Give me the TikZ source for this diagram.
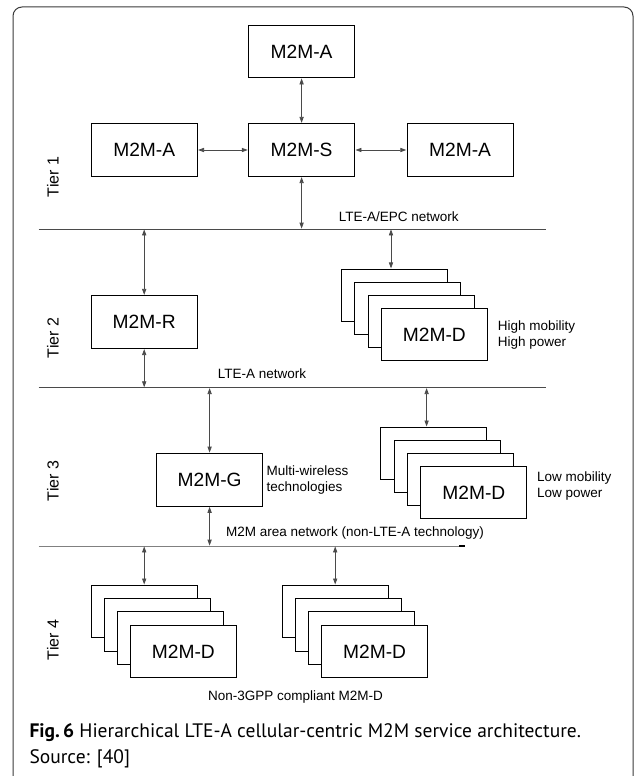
\documentclass[tikz,border=0pt]{standalone}
\usepackage{fontspec}
\setmainfont{Liberation Sans}
\newfontfamily\capfont{PT Sans}
\usetikzlibrary{arrows.meta}
\definecolor{framec}{HTML}{3A3A3A}
\definecolor{linec}{HTML}{4A4A4A}
\tikzset{
  box/.style={draw=black, fill=white, line width=0.9pt, minimum width=106pt, minimum height=52.5pt, inner sep=0pt, font=\fontsize{19.2}{21}\selectfont},
  sbox/.style={box},
  dbl/.style={line width=0.8pt, draw=linec, {Triangle[length=6pt,width=4.2pt]}-{Triangle[length=6pt,width=4.2pt]}, shorten <=0.4pt, shorten >=0.4pt},
  net/.style={line width=1pt, draw=linec},
  small/.style={font=\fontsize{13.5}{16}\selectfont, inner sep=0pt, align=left},
  tier/.style={font=\fontsize{16}{18}\selectfont, rotate=90, inner sep=0pt},
}
\begin{document}
\begin{tikzpicture}[x=1pt, y=-1pt]
\useasboundingbox (0,0) rectangle (637,776);
% frame
\draw[framec, line width=1pt, rounded corners=9pt] (13,800) -- (13,7) -- (633,7) -- (633,800);

% Tier 1
\node[box] (atop) at (301.6,51.3) {M2M-A};
\node[box] (aleft) at (144.2,150) {M2M-A};
\node[box] (srv) at (301.6,150) {M2M-S};
\node[box] (aright) at (460.1,150) {M2M-A};
\node[tier] (t1) at (53,177) {Tier 1};

% network lines
\coordinate (l1a) at (38.6,229);
\coordinate (l1b) at (546.4,229);
\coordinate (l2a) at (38.6,387.7);
\coordinate (l2b) at (546.4,387.7);
\coordinate (l3a) at (38.6,546);
\coordinate (l3b) at (465,546);
\coordinate (l3m) at (459,546);
\draw[net] (l1a) -- (l1b);
\draw[net] (l2a) -- (l2b);
\draw[net, draw=gray] (l3a) -- (l3b);
\draw[line width=1.6pt, draw=black] (l3m) -- (l3b);
\node[small] (n1) at (398.8,217) {LTE-A/EPC network};
\node[small] (n2) at (262,373.3) {LTE-A network};
\node[small] (n3) at (355,532.7) {M2M area network (non-LTE-A technology)};

\draw[dbl] (atop.south) -- (srv.north);
\draw[dbl] (aleft.east) -- (srv.west);
\draw[dbl] (srv.east) -- (aright.west);
\draw[dbl] (srv.south) -- (srv.south |- l1a);

% Tier 2
\node[box] (rel) at (144.2,322) {M2M-R};
\node[tier] (t2) at (53,338) {Tier 2};
\node[sbox] (d2a) at (394.5,295.5) {};
\node[sbox] (d2b) at (407.8,308.5) {};
\node[sbox] (d2c) at (421.1,321.5) {};
\node[sbox] (d2d) at (434.4,334.5) {M2M-D};
\node[small, anchor=west] (hm) at (497.7,335.3) {High mobility\\High power};
\draw[dbl] (rel.north |- l1a) -- (rel.north);
\draw[dbl] ([xshift=-3.5pt]d2a.north |- l1a) -- ([xshift=-3.5pt]d2a.north);
\draw[dbl] (rel.south) -- (rel.south |- l2a);

% Tier 3
\node[box] (gw) at (209.6,479.7) {M2M-G};
\node[tier] (t3) at (53,481) {Tier 3};
\node[small, anchor=west] (mw) at (266.5,480.3) {Multi-wireless\\technologies};
\node[sbox] (d3a) at (433.9,453.6) {};
\node[sbox] (d3b) at (447.2,466.6) {};
\node[sbox] (d3c) at (460.5,479.6) {};
\node[sbox] (d3d) at (473.8,492.6) {M2M-D};
\node[small, anchor=west] (lm) at (537,486.3) {Low mobility\\Low power};
\draw[dbl] (gw.north |- l2a) -- (gw.north);
\draw[dbl] ([xshift=-7.3pt]d3a.north |- l2a) -- ([xshift=-7.3pt]d3a.north);
\draw[dbl] (gw.south) -- (gw.south |- l3a);

% Tier 4
\node[tier] (t4) at (53,640) {Tier 4};
\node[sbox] (d4a) at (144.2,611.6) {};
\node[sbox] (d4b) at (157.3,624.8) {};
\node[sbox] (d4c) at (170.3,638) {};
\node[sbox] (d4d) at (183.4,651.3) {M2M-D};
\node[sbox] (d5a) at (335.2,611.6) {};
\node[sbox] (d5b) at (348.3,624.8) {};
\node[sbox] (d5c) at (361.3,638) {};
\node[sbox] (d5d) at (374.6,651.3) {M2M-D};
\draw[dbl] (d4a.north |- l3a) -- (d4a.north);
\draw[dbl] (d5a.north |- l3a) -- (d5a.north);
\node[small] (nc) at (295.5,696.7) {Non-3GPP compliant M2M-D};

% caption
\node[anchor=base west, inner sep=0pt, font=\capfont\fontsize{19.5}{24}\selectfont] (cap1) at (29.3,737) {\textbf{Fig.\,6} Hierarchical LTE-A cellular-centric M2M service architecture.};
\node[anchor=base west, inner sep=0pt, font=\capfont\fontsize{19.5}{24}\selectfont] (cap2) at (29.3,763) {Source: [40]};
\end{tikzpicture}
\end{document}
